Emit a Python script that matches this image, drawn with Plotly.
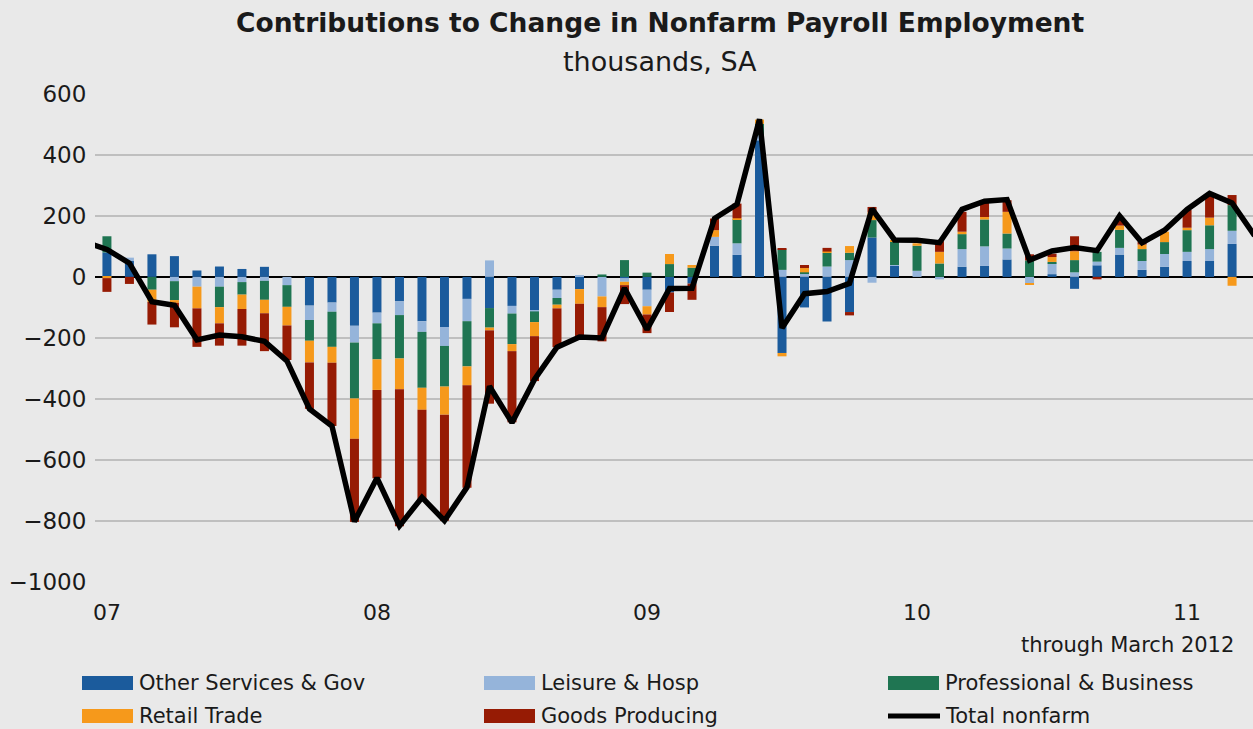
import plotly.graph_objects as go

# ---------------- data (thousands, SA) ----------------
months = list(range(0, 51))              # month index, first bar = "07"
tick_pos = [0, 12, 24, 36, 48]
tick_labels = ["07", "08", "09", "10", "11"]

other_services_gov = [80, 52, 74, 68, 21, 34, 26, 33, 0, -94, -84, -160,
                      -117, -80, -145, -164, -72, -102, -95, -109, -42, -40, 0, -5,
                      -42, -51, -22, 102, 72, 447, -249, -100, -146, -115, 129, 36,
                      0, 0, 33, 36, 57, 0, 9, -39, 38, 73, 23, 33,
                      52, 52, 108]
leisure_hosp = [0, 11, 0, -14, -32, -32, -17, -13, -27, -47, -30, -55,
                -35, -45, -35, -62, -73, 54, -25, -4, -27, 6, -64, -11,
                -54, 0, 0, 29, 38, 16, 23, 10, 34, 55, -19, 3,
                20, -8, 58, 64, 36, -20, 35, 15, 12, 22, 29, 42,
                30, 39, 43]
prof_business = [53, 0, -42, -62, 0, -67, -41, -62, -71, -68, -115, -183,
                 -118, -142, -183, -133, -148, -64, -100, -35, -22, 0, 8, 55,
                 14, 42, 30, 0, 79, 38, 67, 5, 45, 24, 57, 78,
                 82, 44, 49, 88, 49, 54, 5, 40, 32, 59, 39, 39,
                 71, 78, 84]
retail_trade = [-4, 0, -40, -9, -71, -53, -47, -44, -61, -71, -52, -132,
                -100, -101, -72, -92, -62, -9, -23, -46, -12, -48, -35, -11,
                -27, 33, 9, 22, 3, 14, -11, 14, 4, 22, 25, 2,
                8, 38, 8, 8, 71, -4, 16, 29, 0, 14, 15, 34,
                8, 25, -29]
goods_producing = [-45, -23, -74, -80, -126, -73, -120, -124, -113, -152, -207, -272,
                   -289, -448, -293, -347, -335, -240, -233, -147, -127, -107, -112, -62,
                   -61, -64, -53, 38, 48, 0, 4, 10, 12, -11, 18, 0,
                   0, 35, 65, 50, 38, 20, 11, 49, -8, 25, 9, 0,
                   58, 73, 33]

total_months = list(range(-1, 52))
total_nonfarm = [115,
                 90, 45, -81, -93, -206, -190, -196, -211, -275, -432, -488, -801,
                 -658, -815, -722, -798, -689, -358, -477, -336, -230, -197, -200, -37,
                 -172, -38, -37, 191, 238, 516, -167, -55, -48, -21, 223, 121,
                 120, 112, 221, 248, 253, 55, 85, 96, 86, 200, 112, 153,
                 221, 273, 242,
                 135]

series_names = ["Other Services & Gov", "Leisure & Hosp", "Professional & Business",
                "Retail Trade", "Goods Producing"]
series_values = [other_services_gov, leisure_hosp, prof_business, retail_trade, goods_producing]
series_colors = ["#1B5B9C", "#95B4DA", "#1F7552", "#F6991B", "#961B04"]
line_name = "Total nonfarm"

# ---------------- geometry helpers (pixels -> paper) ----------------
W, H = 1253, 729
L, R, T, B = 95, 0, 93, 146
PW, PH = W - L - R, H - T - B


def px(x):
    return (x - L) / PW


def py(y):
    return (H - B - y) / PH


FONT = "DejaVu Sans"
TXT = "#1a1a1a"
BG = "#e9e9e9"

fig = go.Figure()
for name, vals, col in zip(series_names, series_values, series_colors):
    fig.add_trace(go.Bar(x=months, y=vals, name=name, marker_color=col,
                         marker_line_width=0, width=0.4, showlegend=False))

fig.add_trace(go.Scatter(x=total_months, y=total_nonfarm, name=line_name, mode="lines",
                         line=dict(color="black", width=5.5), showlegend=False))

fig.update_layout(
    width=W, height=H, autosize=False,
    margin=dict(l=L, r=R, t=T, b=B, pad=0),
    barmode="relative",
    paper_bgcolor=BG, plot_bgcolor=BG,
    font=dict(family=FONT, size=21, color=TXT),
    xaxis=dict(range=[-0.53, 50.93], tickmode="array", tickvals=tick_pos, ticktext=tick_labels,
               showgrid=False, zeroline=False, showline=False,
               ticks="outside", ticklen=10, tickcolor="rgba(0,0,0,0)",
               tickfont=dict(family=FONT, size=22, color=TXT)),
    yaxis=dict(range=[-1002, 602], tickmode="array",
               tickvals=list(range(-1000, 601, 200)),
               showgrid=True, gridcolor="#bfbfbf", gridwidth=2,
               zeroline=True, zerolinecolor="black", zerolinewidth=2,
               showline=False, ticks="outside", ticklen=3, tickcolor="rgba(0,0,0,0)",
               tickfont=dict(family=FONT, size=23, color=TXT)),
)

ann = []
ann.append(dict(text="<b>Contributions to Change in Nonfarm Payroll Employment</b>",
                x=px(660), y=py(22), xref="paper", yref="paper", showarrow=False,
                xanchor="center", yanchor="middle", font=dict(family=FONT, size=26.5, color=TXT)))
ann.append(dict(text="thousands, SA", x=px(660), y=py(61), xref="paper", yref="paper",
                showarrow=False, xanchor="center", yanchor="middle",
                font=dict(family=FONT, size=27, color=TXT)))
ann.append(dict(text="through March 2012", x=px(1236), y=py(645), xref="paper", yref="paper",
                showarrow=False, xanchor="right", yanchor="middle",
                font=dict(family=FONT, size=21, color=TXT)))

# legend (drawn manually to reproduce the wide swatches)
legend_slots = [(82, 683), (484, 683), (888, 683), (82, 716), (484, 716)]
shapes = []
for (lx, ly), name, col in zip(legend_slots, series_names, series_colors):
    shapes.append(dict(type="rect", xref="paper", yref="paper",
                       x0=px(lx), x1=px(lx + 51), y0=py(ly - 7), y1=py(ly + 7),
                       fillcolor=col, line=dict(width=0)))
    ann.append(dict(text=name, x=px(lx + 55), y=py(ly), xref="paper", yref="paper",
                    showarrow=False, xanchor="left", yanchor="middle",
                    font=dict(family=FONT, size=21, color=TXT)))
shapes.append(dict(type="line", xref="paper", yref="paper",
                   x0=px(888), x1=px(940), y0=py(716), y1=py(716),
                   line=dict(color="black", width=5)))
ann.append(dict(text=line_name, x=px(943), y=py(716), xref="paper", yref="paper",
                showarrow=False, xanchor="left", yanchor="middle",
                font=dict(family=FONT, size=21, color=TXT)))

fig.update_layout(annotations=ann, shapes=shapes)
fig.write_html("out.html", config={"displayModeBar": False},
               post_script="document.body.style.margin='0';document.body.style.overflow='hidden';"
                           "document.body.style.background='" + BG + "';")
